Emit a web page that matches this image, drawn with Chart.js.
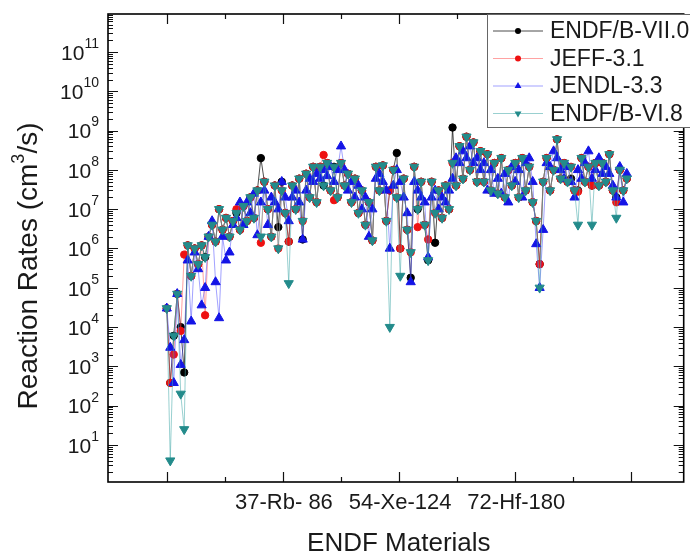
<!DOCTYPE html>
<html>
<head>
<meta charset="utf-8">
<script src="https://cdn.jsdelivr.net/npm/chart.js@4.4.1/dist/chart.umd.min.js"></script>
<style>
  html, body { margin: 0; padding: 0; background: #fff; }
  canvas { display: block; }
</style>
</head>
<body>
<canvas id="rateChart" width="690" height="557"></canvas>
<script>
/* ============================================================
  DATA (material index along x)
============================================================ */
const matIndex = [
  0, 3, 6, 9, 12, 15, 18, 21, 24, 27,
  30, 33, 36, 39, 42, 45, 48, 51, 54, 57,
  60, 63, 66, 69, 72, 75, 78, 81, 84, 87,
  90, 93, 96, 99, 102, 105, 108, 111, 114, 117,
  120, 123, 126, 129, 132, 135, 138, 141, 144, 147,
  150, 153, 156, 159, 162, 165, 168, 171, 174, 177,
  180, 183, 186, 189, 192, 195, 198, 201, 204, 207,
  210, 213, 216, 219, 222, 225, 228, 231, 234, 237,
  240, 243, 246, 249, 252, 255, 258, 261, 264, 267,
  270, 273, 276, 279, 282, 285, 288, 291, 294, 297,
  300, 303, 306, 309, 312, 315, 318, 321, 324, 327,
  330, 333, 336, 339, 342, 345, 348, 351, 354, 357,
  360, 363, 366, 369, 372, 375, 378, 381, 384, 387,
  390, 393, 396
];

const endfB7 = [
  3e4, 380, 6e3, 7e4, 1e4, 700, 1.2e6, 2e5, 1e6, 4e5,
  1.2e6, 6e5, 2e6, 4e6, 1.5e6, 1e7, 3e6, 6e6, 2e6, 5e6,
  8e6, 3e6, 1.2e7, 5e6, 2e7, 6e6, 3e7, 2e8, 5e7, 1e7,
  2e6, 4e7, 3.5e6, 5e7, 8e6, 1.5e6, 4e7, 1e7, 6e7, 1.7e6,
  8e7, 2e7, 1.2e8, 1.5e7, 1.2e8, 4e7, 1.5e8, 3e7, 1.2e8, 2e7,
  1.5e8, 4e7, 8e7, 1.5e7, 6e7, 8e6, 3e7, 4e6, 1.5e7, 1.6e6,
  1.2e8, 3e7, 1.3e8, 5e6, 3e7, 1e8, 2.7e8, 1e6, 6e7, 3e6,
  1.8e5, 1.2e8, 1e7, 5e7, 4e6, 5e5, 5e7, 1.4e6, 3e7, 6e6,
  4e7, 1e7, 1.2e9, 4e7, 4e8, 6e7, 7e8, 1e8, 5e8, 5e7,
  3e8, 5e7, 2.5e8, 3e7, 1.5e8, 2.5e7, 2e8, 2e7, 1e8, 4e7,
  1.5e8, 2e7, 2e8, 3e7, 1.2e8, 1.5e7, 5e6, 4e5, 5e7, 2e8,
  3e7, 1e8, 6e8, 6e7, 1.5e8, 5e7, 6e7, 3e7, 3e7, 2e8,
  5e7, 1.2e8, 4e7, 1.5e8, 4e7, 1.5e8, 5e7, 2.5e8, 3e7, 2e7,
  1e8, 3e7, 6e7
];

const jeff31 = [
  3e4, 380, 2e3, 7e4, 8e3, 7e5, 1.2e6, 2e5, 1e6, 4e5,
  1.2e6, 2e4, 2e6, 4e6, 1.5e6, 1e7, 3e6, 6e6, 2e6, 5e6,
  1e7, 3e6, 1.2e7, 5e6, 2e7, 6e6, 3e7, 1.4e6, 5e7, 1e7,
  2e6, 4e7, 1e6, 3e7, 8e6, 1.5e6, 4e7, 1e7, 6e7, 5e6,
  8e7, 2e7, 1.2e8, 1.5e7, 1.2e8, 2.4e8, 1.5e8, 3e7, 1.7e7, 2e7,
  1.5e8, 4e7, 8e7, 1.5e7, 6e7, 8e6, 3e7, 4e6, 1.5e7, 1.6e6,
  1.2e8, 3e7, 1.3e8, 5e6, 3e7, 1e8, 2e7, 1e6, 6e7, 3e6,
  8e5, 1.2e8, 3.5e6, 5e7, 4e6, 1.7e6, 5e7, 8e6, 3e7, 6e6,
  4e7, 1e7, 1.5e8, 4e7, 4e8, 6e7, 7e8, 1e8, 5e8, 5e7,
  3e8, 5e7, 2.5e8, 3e7, 1.5e8, 2.5e7, 2e8, 2e7, 1e8, 4e7,
  1.5e8, 2e7, 2e8, 3e7, 1.2e8, 1.5e7, 5e6, 4e5, 5e7, 2e8,
  3e7, 1e8, 6e8, 6e7, 1.5e8, 5e7, 1.2e8, 3e7, 2.8e7, 2e8,
  5e7, 1.2e8, 4e7, 1.5e8, 4e7, 1.5e8, 5e7, 2.5e8, 3e7, 1.5e7,
  1e8, 3e7, 6e7
];

const jendl33 = [
  3e4, 3e3, 380, 7e4, 1.1e3, 4.7e3, 5e5, 1.4e4, 8e5, 3e5,
  3.6e4, 1e5, 2e6, 5e6, 1.4e5, 1.7e4, 2e6, 5e5, 8e5, 4e6,
  6e6, 1.5e7, 4e6, 1.5e7, 8e6, 2.5e7, 2.2e6, 1.5e7, 3e7, 4e6,
  2e7, 1.5e7, 1e7, 5e7, 2e7, 5e6, 2e7, 3e7, 1.5e7, 1.7e6,
  3e7, 6e7, 5e7, 8e7, 6e7, 1e8, 7e7, 1.2e8, 5e7, 1e8,
  4e8, 1e8, 3e7, 5e7, 2e7, 4e7, 1e7, 2e7, 2e6, 1e7,
  6e7, 8e7, 5e7, 3e7, 1e6, 4e7, 1e8, 5e7, 2e7, 8e6,
  1.4e5, 5e7, 3e7, 2e7, 1.5e7, 6e5, 2e7, 3e7, 1e7, 2e7,
  1.5e7, 3e7, 6e7, 2e8, 1.5e8, 3e8, 2e8, 4e8, 1.5e8, 2e8,
  1e8, 1.5e8, 3e7, 1e8, 2.5e7, 6e7, 2.5e7, 8e7, 1.5e7, 1.2e8,
  5e7, 1e8, 2e7, 1.5e8, 2e8, 5e7, 1.3e6, 1e5, 3e6, 1.5e8,
  1.2e8, 3e8, 2e8, 1e8, 6e7, 1.2e8, 5e7, 2e7, 1e8, 6e7,
  1.5e8, 3e8, 6e7, 1e8, 2e8, 8e7, 1.2e8, 8e7, 4e7, 2e7,
  1.2e8, 1.5e7, 8e7
];

const endfB68 = [
  3e4, 4, 6e3, 7e4, 200, 25, 1.2e6, 2e5, 1e6, 4e5,
  1.2e6, 6e5, 2e6, 4e6, 1.5e6, 1e7, 3e6, 6e6, 2e6, 5e6,
  8e6, 3e6, 1.2e7, 5e6, 2e7, 6e6, 3e7, 2e6, 5e7, 1e7,
  2e6, 4e7, 1e6, 3e7, 8e6, 1.3e5, 4e7, 1e7, 6e7, 5e6,
  8e7, 2e7, 1.2e8, 1.5e7, 1.2e8, 4e7, 1.5e8, 3e7, 1.2e8, 2e7,
  1.5e8, 4e7, 8e7, 1.5e7, 6e7, 8e6, 3e7, 4e6, 1.5e7, 1.6e6,
  1.2e8, 3e7, 1.3e8, 5e6, 1e4, 1e8, 2e7, 2e5, 6e7, 3e6,
  8e5, 1.2e8, 1e7, 5e7, 4e6, 5e5, 5e7, 8e6, 3e7, 6e6,
  4e7, 1e7, 1.5e8, 4e7, 4e8, 6e7, 7e8, 1e8, 5e8, 5e7,
  3e8, 5e7, 2.5e8, 3e7, 1.5e8, 2.5e7, 2e8, 2e7, 1e8, 4e7,
  1.5e8, 2e7, 2e8, 3e7, 1.2e8, 1.5e7, 5e6, 1e5, 5e7, 2e8,
  3e7, 1e8, 6e8, 6e7, 1.5e8, 5e7, 1.2e8, 3e7, 4e6, 2e8,
  5e7, 1.2e8, 4e6, 1.5e8, 4e7, 1.5e8, 5e7, 2.5e8, 3e7, 6e6,
  1e8, 3e7, 6e7
];

const seriesLabels = ['ENDF/B-VII.0', 'JEFF-3.1', 'JENDL-3.3', 'ENDF/B-VI.8'];

const xMajorTicks = [0, 100, 200, 300, 400];
const xMinorTicks = [50, 150, 250, 350];
const xTickLabels = ['', '37-Rb- 86', '54-Xe-124', '72-Hf-180', ''];
const yTickExponents = [1, 2, 3, 4, 5, 6, 7, 8, 9, 10, 11];

const FONT = '"Liberation Sans", Arial, Helvetica, sans-serif';

/* ============================================================
  HELPERS
============================================================ */
function toPoints(values) {
  return values.map((v, i) => ({ x: matIndex[i], y: v }));
}

function drawMarker(ctx, style, rot, x, y, r, color) {
  ctx.fillStyle = color;
  ctx.beginPath();
  if (style === 'circle') {
    ctx.arc(x, y, r, 0, Math.PI * 2);
  } else {
    const a0 = rot ? Math.PI : 0;
    for (let k = 0; k < 3; k++) {
      const a = a0 + k * 2 * Math.PI / 3;
      const px = x + Math.sin(a) * r, py = y - Math.cos(a) * r;
      k === 0 ? ctx.moveTo(px, py) : ctx.lineTo(px, py);
    }
    ctx.closePath();
  }
  ctx.fill();
}

/* ============================================================
  FRAME / TICKS / LABELS / LEGEND  (drawn after the data)
============================================================ */
const frameAxesPlugin = {
  id: 'frameAxes',
  afterDraw(chart) {
    const { ctx, chartArea: a, scales: { x, y } } = chart;
    ctx.save();

    // inward ticks on all four sides
    ctx.strokeStyle = '#111';
    ctx.lineWidth = 1.2;
    ctx.beginPath();
    for (let e = 0; e <= 11; e++) {
      for (let m = 1; m <= 9; m++) {
        const v = m * Math.pow(10, e);
        if (v < y.min || v > y.max) continue;
        const py = Math.round(y.getPixelForValue(v)) + 0.5;
        const len = m === 1 ? 10 : 5;
        ctx.moveTo(a.left, py); ctx.lineTo(a.left + len, py);
        ctx.moveTo(a.right, py); ctx.lineTo(a.right - len, py);
      }
    }
    const xTick = (v, len) => {
      const px = Math.round(x.getPixelForValue(v)) + 0.5;
      ctx.moveTo(px, a.bottom); ctx.lineTo(px, a.bottom - len);
      ctx.moveTo(px, a.top); ctx.lineTo(px, a.top + len);
    };
    xMajorTicks.forEach(v => xTick(v, 10));
    xMinorTicks.forEach(v => xTick(v, 5));
    ctx.stroke();

    // frame
    ctx.lineWidth = 1.6;
    ctx.strokeStyle = '#000';
    ctx.strokeRect(a.left, a.top, a.right - a.left, a.bottom - a.top);

    // y tick labels: 10^n
    ctx.fillStyle = '#1a1a1a';
    ctx.textBaseline = 'middle';
    ctx.textAlign = 'left';
    yTickExponents.forEach(e => {
      const py = y.getPixelForValue(Math.pow(10, e));
      ctx.font = `21px ${FONT}`;
      const wBase = ctx.measureText('10').width;
      ctx.font = `14px ${FONT}`;
      const wExp = ctx.measureText(String(e)).width;
      const left = a.left - 9 - wExp - wBase;
      ctx.font = `21px ${FONT}`;
      ctx.fillText('10', left, py + 2);
      ctx.font = `14px ${FONT}`;
      ctx.fillText(String(e), left + wBase, py - 8);
    });

    // x tick labels
    ctx.font = `22px ${FONT}`;
    ctx.textAlign = 'center';
    xMajorTicks.forEach((v, i) => {
      if (xTickLabels[i]) ctx.fillText(xTickLabels[i], x.getPixelForValue(v) + 1, 503);
    });

    // x title
    ctx.font = `26px ${FONT}`;
    ctx.fillText('ENDF Materials', (a.left + a.right) / 2 + 3, 544);

    // y title, rotated, with superscript 3
    ctx.save();
    ctx.translate(29, 266);
    ctx.rotate(-Math.PI / 2);
    ctx.textAlign = 'left';
    const p1 = 'Reaction Rates (cm', p3 = '/s)';
    ctx.font = `28px ${FONT}`;
    const w1 = ctx.measureText(p1).width, w3 = ctx.measureText(p3).width;
    ctx.font = `18px ${FONT}`;
    const w2 = ctx.measureText('3').width;
    let tx = -(w1 + w2 + w3) / 2;
    ctx.font = `28px ${FONT}`;
    ctx.fillText(p1, tx, 0);
    ctx.font = `18px ${FONT}`;
    ctx.fillText('3', tx + w1, -10);
    ctx.font = `28px ${FONT}`;
    ctx.fillText(p3, tx + w1 + w2, 0);
    ctx.restore();

    // legend box
    const lx = 487, ly = 14, lw = 210, lh = 113;
    ctx.fillStyle = '#fff';
    ctx.fillRect(lx, ly, lw, lh);
    ctx.lineWidth = 1;
    ctx.strokeStyle = '#666';
    ctx.strokeRect(lx + 0.5, ly + 0.5, lw, lh);

    chart.data.datasets.forEach((ds, i) => {
      const cy = 31 + i * 27.5;
      ctx.strokeStyle = ds.borderColor;
      ctx.lineWidth = 1;
      ctx.beginPath();
      ctx.moveTo(493, cy); ctx.lineTo(543, cy);
      ctx.stroke();
      drawMarker(ctx, ds.pointStyle, ds.pointRotation, 518, cy,
        ds.pointStyle === 'circle' ? 3 : 4, ds.pointBackgroundColor);
      ctx.fillStyle = '#1a1a1a';
      ctx.font = `23px ${FONT}`;
      ctx.textAlign = 'left';
      ctx.textBaseline = 'middle';
      ctx.fillText(ds.label, 550, cy + 1);
    });

    ctx.restore();
  }
};

/* ============================================================
  CHART
============================================================ */
function makeSet(label, values, lineColor, markColor, style, rot, order, r) {
  return {
    label,
    data: toPoints(values),
    borderColor: lineColor,
    borderWidth: 1,
    pointStyle: style,
    pointRotation: rot,
    pointRadius: r,
    pointBorderWidth: 1,
    pointBackgroundColor: markColor,
    pointBorderColor: markColor,
    order
  };
}

const ctx = document.getElementById('rateChart').getContext('2d');

new Chart(ctx, {
  type: 'line',
  data: {
    datasets: [
      makeSet(seriesLabels[0], endfB7, 'rgba(0,0,0,0.7)', '#000000', 'circle', 0, 3, 3.7),
      makeSet(seriesLabels[1], jeff31, 'rgba(255,70,70,0.5)', '#ee1111', 'circle', 0, 2, 3.7),
      makeSet(seriesLabels[2], jendl33, 'rgba(70,70,255,0.5)', '#1414e6', 'triangle', 0, 1, 5.3),
      makeSet(seriesLabels[3], endfB68, 'rgba(70,170,170,0.55)', '#238b8b', 'triangle', 180, 0, 5.3)
    ]
  },
  options: {
    responsive: false,
    animation: false,
    layout: { padding: { left: 108, top: 14, right: 4, bottom: 75 } },
    elements: { line: { tension: 0 } },
    scales: {
      x: { type: 'linear', min: -50.6, max: 445, display: false },
      y: { type: 'logarithmic', min: 1.14, max: 9.3e11, display: false }
    },
    plugins: {
      legend: { display: false },
      tooltip: { enabled: false }
    }
  },
  plugins: [frameAxesPlugin]
});
</script>
</body>
</html>
